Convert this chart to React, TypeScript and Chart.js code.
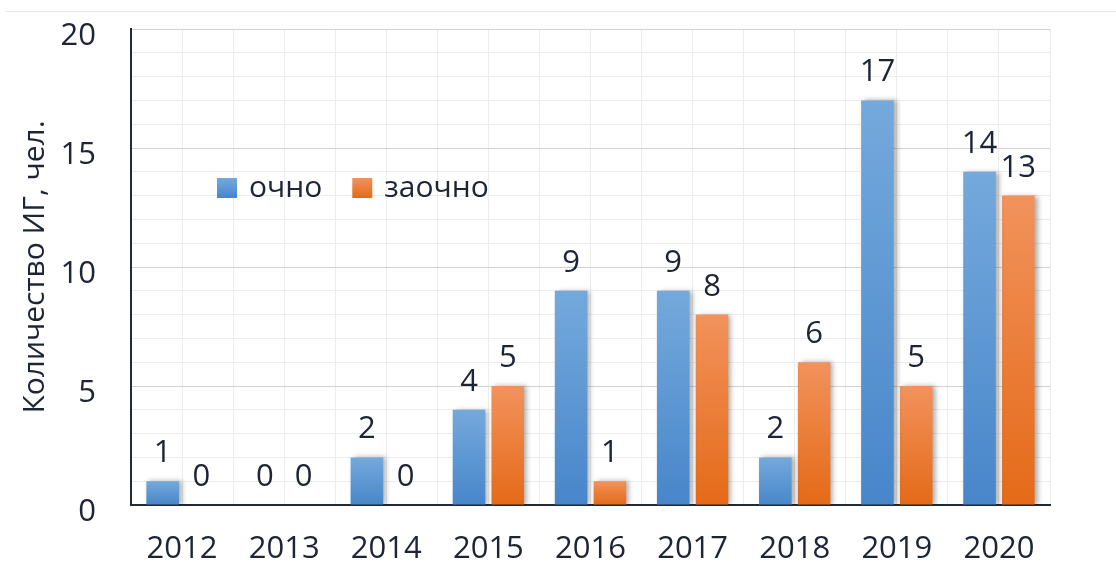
import React, { useEffect, useRef } from 'react';
import { Chart, registerables } from 'chart.js';

Chart.register(...registerables);

const categories = ['2012', '2013', '2014', '2015', '2016', '2017', '2018', '2019', '2020'];
const fullTimeValues = [1, 0, 2, 4, 9, 9, 2, 17, 14];
const partTimeValues = [0, 0, 0, 5, 1, 8, 6, 5, 13];
const seriesNames = ['очно', 'заочно'];
const yTitle = 'Количество ИГ, чел.';
const yMin = 0;
const yMax = 20;
const yMajorStep = 5;

const FONT = '"Open Sans", sans-serif';
const TEXT = '#1c2436';
const AXIS = '#1f2a3a';
const GRID_MINOR = '#ececec';
const GRID_MAJOR = '#d2d2d2';
const CLEAR = 'rgba(0,0,0,0)';

const palettes = [
  { top: '#74a9dc', bottom: '#4886ca' },
  { top: '#f2925c', bottom: '#e46a18' },
];

function barFill(ctx: any, idx: number) {
  const p = palettes[idx];
  const chart = ctx.chart;
  const y = chart.scales && chart.scales.y;
  const v = ctx.raw;
  if (!y || !v) return p.bottom;
  const top = y.getPixelForValue(v);
  const bot = y.getPixelForValue(0);
  if (!isFinite(top) || !isFinite(bot) || bot - top < 1) return p.bottom;
  const g = chart.ctx.createLinearGradient(0, top, 0, bot);
  g.addColorStop(0, p.top);
  g.addColorStop(1, p.bottom);
  return g;
}

const shadowPlugin = {
  id: 'barShadow',
  beforeDatasetDraw(chart: any) {
    const c = chart.ctx;
    c.save();
    c.shadowColor = 'rgba(0,0,0,0.32)';
    c.shadowBlur = 5;
    c.shadowOffsetX = 3;
    c.shadowOffsetY = 0;
  },
  afterDatasetDraw(chart: any) {
    chart.ctx.restore();
  },
};

const valueLabelPlugin = {
  id: 'valueLabels',
  afterDatasetsDraw(chart: any) {
    const c = chart.ctx;
    c.save();
    c.font = `31px ${FONT}`;
    c.fillStyle = TEXT;
    c.textAlign = 'center';
    c.textBaseline = 'alphabetic';
    chart.data.datasets.forEach((ds: any, di: number) => {
      const meta = chart.getDatasetMeta(di);
      meta.data.forEach((el: any, i: number) => {
        const v = ds.data[i];
        c.fillText(String(v), el.x, el.y - 19);
      });
    });
    c.restore();
  },
};

const insideLegendPlugin = {
  id: 'insideLegend',
  afterDraw(chart: any) {
    const c = chart.ctx;
    const area = chart.chartArea;
    c.save();
    c.font = `30px ${FONT}`;
    c.textAlign = 'left';
    c.textBaseline = 'alphabetic';
    let x = area.left + 86;
    const boxTop = area.top + 149;
    const baseline = area.top + 168;
    chart.data.datasets.forEach((ds: any, di: number) => {
      const p = palettes[di];
      const g = c.createLinearGradient(0, boxTop, 0, boxTop + 20);
      g.addColorStop(0, p.top);
      g.addColorStop(1, p.bottom);
      c.fillStyle = g;
      c.fillRect(x, boxTop, 20, 20);
      c.fillStyle = TEXT;
      c.fillText(ds.label, x + 32, baseline);
      x += 32 + c.measureText(ds.label).width + 30;
    });
    c.restore();
  },
};

export default function App() {
  const canvasRef = useRef<HTMLCanvasElement | null>(null);

  useEffect(() => {
    if (!canvasRef.current) return;
    const chart = new Chart(canvasRef.current, {
      type: 'bar',
      data: {
        labels: categories,
        datasets: [
          {
            label: seriesNames[0],
            data: fullTimeValues,
            backgroundColor: (ctx: any) => barFill(ctx, 0),
            barPercentage: 0.84,
            categoryPercentage: 0.76,
          },
          {
            label: seriesNames[1],
            data: partTimeValues,
            backgroundColor: (ctx: any) => barFill(ctx, 1),
            barPercentage: 0.84,
            categoryPercentage: 0.76,
          },
        ],
      },
      options: {
        animation: false,
        responsive: true,
        maintainAspectRatio: false,
        layout: { padding: { top: 29, right: 66, left: 0, bottom: 0 } },
        plugins: {
          legend: { display: false },
          tooltip: { enabled: false },
        },
        scales: {
          x: {
            offset: true,
            grid: { offset: true, color: GRID_MINOR, drawTicks: true, tickLength: 26, tickColor: CLEAR },
            border: { display: true, color: AXIS, width: 2 },
            ticks: { color: TEXT, font: { family: FONT, size: 31 }, padding: 0 },
            afterFit: (s: any) => {
              s.height = 73;
            },
          },
          x2: {
            type: 'category',
            labels: categories,
            position: 'top',
            offset: true,
            grid: { offset: false, color: GRID_MINOR, drawTicks: false },
            border: { display: false },
            ticks: { display: false },
            afterFit: (s: any) => {
              s.height = 0;
            },
          },
          y: {
            min: yMin,
            max: yMax,
            ticks: {
              stepSize: 1,
              autoSkip: false,
              padding: 0,
              labelOffset: 7,
              color: TEXT,
              font: { family: FONT, size: 31 },
              callback: (v: any) => (Number(v) % yMajorStep === 0 ? String(v) : ''),
            },
            grid: {
              color: (c: any) => (c.tick && c.tick.value % yMajorStep === 0 ? GRID_MAJOR : GRID_MINOR),
              drawTicks: true,
              tickLength: 35,
              tickColor: CLEAR,
            },
            border: { display: true, color: AXIS, width: 2 },
            title: {
              display: true,
              text: yTitle,
              color: TEXT,
              font: { family: FONT, size: 30 },
              padding: { top: 17, bottom: 0 },
            },
            afterFit: (s: any) => {
              s.width = 131;
            },
          },
        },
      } as any,
      plugins: [shadowPlugin, valueLabelPlugin, insideLegendPlugin],
    });
    return () => chart.destroy();
  }, []);

  return (
    <div style={{ position: 'absolute', left: 0, top: 0, width: 1116, height: 578, background: '#fff' }}>
      <div style={{ position: 'absolute', left: 6, right: 0, top: 11, height: 1, background: '#e8e8e8' }} />
      <canvas ref={canvasRef} />
    </div>
  );
}
